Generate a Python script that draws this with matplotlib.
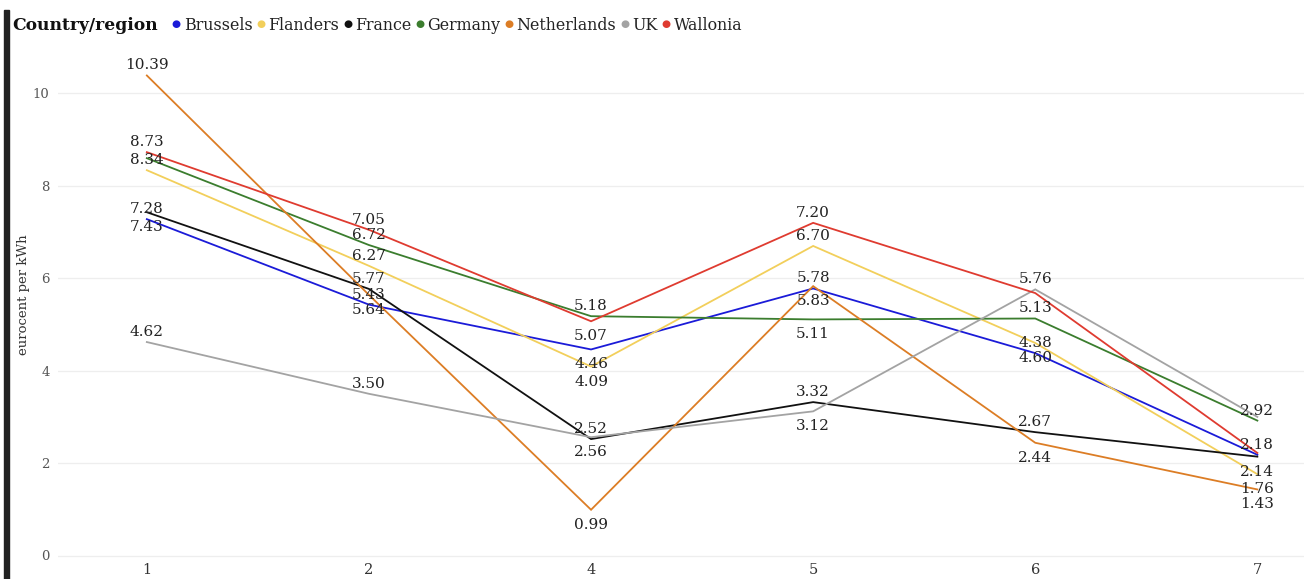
import matplotlib
matplotlib.use("Agg")
import matplotlib.pyplot as plt
from matplotlib.patches import Rectangle

# ---- data -------------------------------------------------------------
categories = ["1", "2", "4", "5", "6", "7"]

brussels    = [7.28, 5.43, 4.46, 5.78, 4.38, 2.18]
flanders    = [8.34, 6.27, 4.09, 6.70, 4.60, 1.76]
france      = [7.43, 5.77, 2.52, 3.32, 2.67, 2.14]
germany     = [8.60, 6.72, 5.18, 5.11, 5.13, 2.92]
netherlands = [10.39, 5.64, 0.99, 5.83, 2.44, 1.43]
uk          = [4.62, 3.50, 2.56, 3.12, 5.76, 3.00]
wallonia    = [8.73, 7.05, 5.07, 7.20, 5.68, 2.22]

series_names = ["Brussels", "Flanders", "France", "Germany",
                "Netherlands", "UK", "Wallonia"]
series_values = [brussels, flanders, france, germany, netherlands, uk, wallonia]

yticks = [0, 2, 4, 6, 8, 10]
y_label = "eurocent per kWh"
legend_title = "Country/region"

# ---- styling ----------------------------------------------------------
colors = {
    "Brussels": "#1b1bd8",
    "Flanders": "#f2cf5b",
    "France": "#111111",
    "Germany": "#3b7d2e",
    "Netherlands": "#dc7d25",
    "UK": "#a3a3a3",
    "Wallonia": "#df3b30",
}

# data-label placement: a = above the point, b = below, '' = not shown
placement = {
    "Brussels":    ["a", "a", "b", "a", "a", "a"],
    "Flanders":    ["a", "a", "b", "a", "b", "b"],
    "France":      ["b", "a", "a", "a", "a", "b"],
    "Germany":     ["",  "a", "a", "b", "a", "a"],
    "Netherlands": ["a", "b", "b", "b", "b", "b"],
    "UK":          ["a", "a", "b", "b", "a", ""],
    "Wallonia":    ["a", "a", "b", "a", "",  ""],
}

SERIF = ["DejaVu Serif"]
plt.rcParams["font.family"] = SERIF

W, H, DPI = 1304, 579, 100
fig = plt.figure(figsize=(W / DPI, H / DPI), dpi=DPI)
fig.patch.set_facecolor("white")

# axes box in pixel terms
px_left, px_right = 58, 1304
px_bottom, px_top = 560, 50
px_per_unit = 46.2
zero_px = 555.5
ax = fig.add_axes([px_left / W, (H - px_bottom) / H,
                   (px_right - px_left) / W, (px_bottom - px_top) / H])
ax.set_ylim((zero_px - px_bottom) / px_per_unit, (zero_px - px_top) / px_per_unit)
ax.set_xlim(-0.4, 5.21)

x = list(range(len(categories)))
for name, vals in zip(series_names, series_values):
    ax.plot(x, vals, color=colors[name], lw=1.3, solid_joinstyle="miter", zorder=3)

# data labels
for name, vals in zip(series_names, series_values):
    for i, v in enumerate(vals):
        p = placement[name][i]
        if not p:
            continue
        dy = 10 if p == "a" else -15
        ax.annotate(f"{v:.2f}", (i, v), xytext=(0, dy * 72 / DPI),
                    textcoords="offset points", ha="center", va="center",
                    fontsize=11, color="#222222", zorder=5)

# grid and axes
ax.set_yticks(yticks)
ax.set_xticks(x)
ax.set_xticklabels(categories)
ax.grid(axis="y", color="#eeeeee", lw=0.9)
ax.set_axisbelow(True)
for s in ax.spines.values():
    s.set_visible(False)
ax.tick_params(axis="y", length=0, pad=6, labelsize=9.5, labelcolor="#555555")
ax.tick_params(axis="x", length=0, pad=2, labelsize=10.5, labelcolor="#333333")
ax.set_ylabel(y_label, fontsize=9.5, color="#333333")
ax.yaxis.set_label_coords((30 - px_left) / (px_right - px_left), 0.52)

# dark accent bar on the left edge
fig.patches.append(Rectangle((4 / W, 0), 5 / W, (H - 10) / H,
                             transform=fig.transFigure, color="#222222",
                             zorder=10))

# legend row built from text pieces
renderer = fig.canvas.get_renderer()
cursor = 12
y_leg = 1 - 25 / H


def put(txt, **kw):
    global cursor
    t = fig.text(cursor / W, y_leg, txt, ha="left", va="center", **kw)
    bb = t.get_window_extent(renderer=renderer)
    cursor = bb.x1
    return t


put(legend_title, fontsize=12.3, fontweight="bold", color="#111111")
cursor += 14
for name in series_names:
    put("\u25cf", fontsize=7.5, color=colors[name])
    cursor += 3
    put(name, fontsize=11.4, color="#222222")
    cursor += 4

fig.savefig("out.png", dpi=DPI, facecolor="white")
